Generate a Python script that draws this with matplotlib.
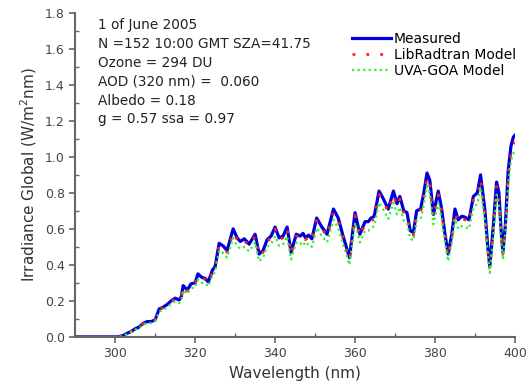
import numpy as np
from matplotlib import pyplot as plt
from matplotlib.ticker import MultipleLocator

# Spectral irradiance, 1 June 2005
wavelength = [290, 295, 300, 301, 302, 303, 304, 305, 306, 307, 308, 309, 310, 311, 312,
              313, 314, 315, 316, 316.5, 317, 318, 319, 320, 320.7, 321.7, 322.5, 323.3,
              324.3, 325, 326, 327, 328, 329.5, 330.5, 331.3, 332.3, 333.5, 335, 336,
              337, 338, 339, 340, 341, 342, 343, 344, 345.3, 346.3, 347, 347.6, 348.4,
              349.2, 350.4, 351.7, 353, 354.6, 355.8, 357, 358.6, 360, 361.2, 362.5,
              363.3, 364, 364.8, 366, 367, 368.3, 369.6, 370.5, 371.2, 372.2, 373,
              373.8, 374.6, 375.4, 376.4, 377.2, 378, 378.7, 379.6, 380.8, 381.6, 382.5,
              383.3, 384.2, 385, 385.8, 386.7, 387.5, 388.5, 389.6, 390.6, 391.4, 392.5,
              393.2, 393.7, 394.6, 395.4, 396, 396.5, 397, 397.6, 398.3, 399, 399.6, 400]

measured = [0, 0, 0.0, 0.002, 0.008, 0.02, 0.03, 0.045, 0.055, 0.075, 0.085, 0.085, 0.095,
            0.155, 0.165, 0.18, 0.20, 0.215, 0.205, 0.22, 0.285, 0.26, 0.295, 0.30, 0.35,
            0.33, 0.325, 0.305, 0.37, 0.39, 0.52, 0.505, 0.48, 0.60, 0.55, 0.53, 0.545,
            0.515, 0.57, 0.46, 0.48, 0.54, 0.56, 0.61, 0.55, 0.56, 0.61, 0.47, 0.57, 0.56,
            0.575, 0.55, 0.565, 0.545, 0.66, 0.61, 0.57, 0.71, 0.66, 0.56, 0.44, 0.69, 0.57,
            0.64, 0.64, 0.66, 0.67, 0.81, 0.77, 0.71, 0.81, 0.74, 0.78, 0.70, 0.69, 0.59,
            0.58, 0.70, 0.71, 0.80, 0.91, 0.87, 0.68, 0.81, 0.72, 0.57, 0.46, 0.57, 0.71,
            0.65, 0.67, 0.665, 0.65, 0.78, 0.80, 0.90, 0.70, 0.50, 0.39, 0.62, 0.86, 0.80,
            0.60, 0.47, 0.62, 0.92, 1.06, 1.11, 1.12]

libradtran = [0, 0, 0.0, 0.002, 0.008, 0.02, 0.03, 0.044, 0.054, 0.074, 0.084, 0.083, 0.094,
              0.152, 0.162, 0.177, 0.196, 0.21, 0.20, 0.216, 0.28, 0.255, 0.29, 0.295, 0.34,
              0.325, 0.32, 0.30, 0.36, 0.385, 0.51, 0.495, 0.47, 0.58, 0.54, 0.52, 0.535,
              0.505, 0.56, 0.45, 0.47, 0.53, 0.55, 0.60, 0.54, 0.55, 0.60, 0.46, 0.56, 0.55,
              0.565, 0.54, 0.555, 0.535, 0.645, 0.60, 0.56, 0.69, 0.645, 0.55, 0.43, 0.675,
              0.56, 0.625, 0.63, 0.645, 0.655, 0.79, 0.755, 0.695, 0.79, 0.725, 0.765, 0.685,
              0.675, 0.575, 0.565, 0.685, 0.695, 0.78, 0.885, 0.85, 0.665, 0.79, 0.705, 0.56,
              0.45, 0.56, 0.695, 0.635, 0.655, 0.65, 0.635, 0.76, 0.78, 0.875, 0.685, 0.49,
              0.38, 0.605, 0.835, 0.78, 0.585, 0.46, 0.605, 0.89, 1.02, 1.07, 1.08]

uvagoa = [0, 0, 0.0, 0.001, 0.006, 0.016, 0.026, 0.04, 0.05, 0.068, 0.077, 0.077, 0.087,
          0.14, 0.15, 0.165, 0.183, 0.196, 0.187, 0.2, 0.26, 0.238, 0.27, 0.275, 0.32,
          0.30, 0.297, 0.28, 0.34, 0.36, 0.48, 0.465, 0.44, 0.55, 0.505, 0.49, 0.50,
          0.475, 0.525, 0.42, 0.44, 0.50, 0.515, 0.56, 0.505, 0.515, 0.56, 0.43, 0.525,
          0.515, 0.53, 0.505, 0.52, 0.50, 0.605, 0.56, 0.525, 0.65, 0.605, 0.515, 0.40,
          0.635, 0.525, 0.59, 0.59, 0.605, 0.615, 0.745, 0.71, 0.655, 0.745, 0.68, 0.72,
          0.645, 0.635, 0.545, 0.535, 0.645, 0.655, 0.735, 0.84, 0.80, 0.625, 0.745,
          0.665, 0.525, 0.42, 0.525, 0.655, 0.60, 0.615, 0.61, 0.60, 0.72, 0.74, 0.83,
          0.645, 0.46, 0.355, 0.57, 0.79, 0.735, 0.55, 0.43, 0.57, 0.85, 0.98, 1.02, 1.04]

info_lines = ["1 of June 2005",
              "N =152 10:00 GMT SZA=41.75",
              "Ozone = 294 DU",
              "AOD (320 nm) =  0.060",
              "Albedo = 0.18",
              "g = 0.57 ssa = 0.97"]

fig = plt.figure(figsize=(5.26, 3.89), dpi=100)
ax = fig.add_axes([0.143, 0.134, 0.836, 0.833])

ax.plot(wavelength, measured, color='#0000dd', lw=2.3, label='Measured')
ax.plot(wavelength, libradtran, color='#ff2020', lw=2.0, ls=(0, (1, 4)),
        label='LibRadtran Model')
ax.plot(wavelength, uvagoa, color='#33ee33', lw=1.6, ls=(0, (1, 1.5)),
        label='UVA-GOA Model')

ax.set_xlim(290, 400)
ax.set_ylim(0, 1.8)
ax.xaxis.set_major_locator(MultipleLocator(20))
ax.xaxis.set_minor_locator(MultipleLocator(10))
ax.yaxis.set_major_locator(MultipleLocator(0.2))
ax.yaxis.set_minor_locator(MultipleLocator(0.1))
ax.yaxis.set_major_formatter(plt.FormatStrFormatter('%.1f'))

for side in ['top', 'right']:
    ax.spines[side].set_visible(False)
for side in ['left', 'bottom']:
    ax.spines[side].set_color('#666666')
    ax.spines[side].set_linewidth(1.5)

ax.tick_params(which='major', direction='out', length=4, width=1.2,
               color='#666666', labelcolor='#444444', labelsize=9)
ax.tick_params(which='minor', direction='in', length=3, width=1.0, color='#666666')

ax.set_xlabel('Wavelength (nm)', fontsize=11, color='#333333')
ax.set_ylabel('Irradiance Global (W/m$^2$nm)', fontsize=11, color='#333333')

for i, line in enumerate(info_lines):
    ax.text(0.052, 0.985 - i * 0.0585, line, transform=ax.transAxes,
            fontsize=9.8, color='#222222', va='top')

ax.legend(loc='upper right', bbox_to_anchor=(1.025, 0.97), frameon=False,
          fontsize=10, handlelength=2.8, handletextpad=0.25, labelspacing=0.12,
          borderpad=0.2)

plt.savefig('out.png', dpi=100)
